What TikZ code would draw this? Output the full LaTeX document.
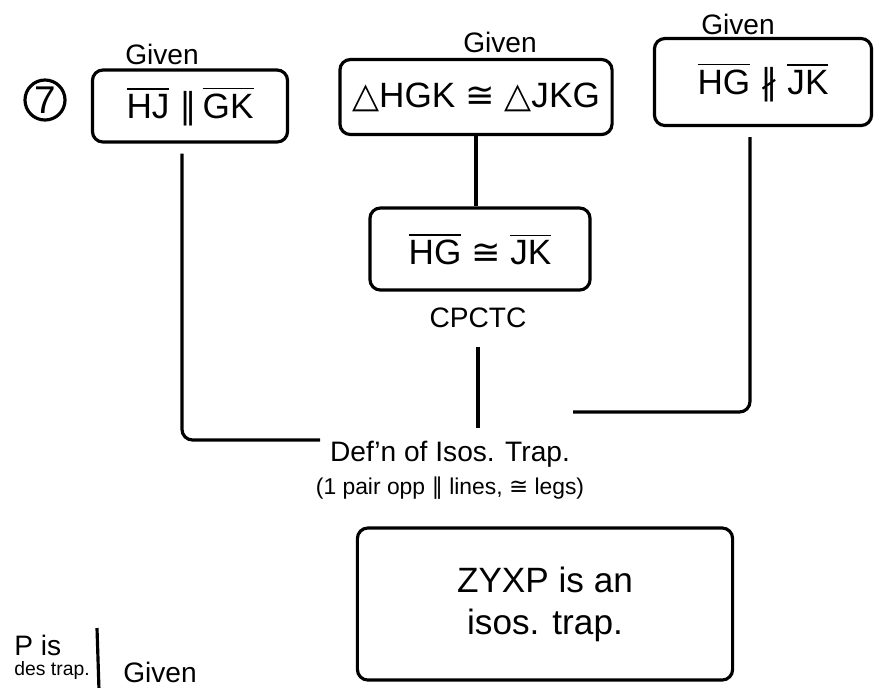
\documentclass[tikz,border=0pt]{standalone}
\usepackage{fontspec}
\setmainfont{Liberation Sans}
\newfontfamily\symfont{DejaVu Sans}
\newcommand{\seg}[1]{$\overline{\mbox{#1}}$}
\newcommand{\sym}[1]{{\symfont #1}}
\begin{document}
\begin{tikzpicture}[x=0.01cm, y=-0.01cm,
    proofbox/.style={draw, line width=0.9pt, rounded corners=3pt, align=center, font=\fontsize{10}{12}\selectfont},
    reason/.style={font=\fontsize{8}{9.5}\selectfont, align=center},
    link/.style={line width=0.9pt, rounded corners=3pt}]
        \clip (0,0) rectangle (882,687);

        % Step number
        \node[draw, circle, line width=0.9pt, minimum size=0.4cm, inner sep=0pt, font=\fontsize{11}{12}\selectfont] (num) at (45,100) {7};

        % Given statements
        \node[proofbox, minimum width=1.95cm, minimum height=0.72cm] (hjgk) at (190,106) {\seg{HJ} \sym{∥}\,\seg{GK}};
        \node[proofbox, minimum width=2.72cm, minimum height=0.75cm] (hgk) at (476,97) {\sym{△}HGK \sym{≅} \sym{△}JKG};
        \node[proofbox, minimum width=2.17cm, minimum height=0.87cm] (nopar) at (763,82) {\seg{HG} \sym{∦} \seg{JK}};
        \node[reason, anchor=base] (given1) at (162,64) {Given};
        \node[reason, anchor=base] (given2) at (500,52) {Given};
        \node[reason, anchor=base] (given3) at (738,34) {Given};

        % Congruent legs
        \node[proofbox, minimum width=2.2cm, minimum height=0.82cm] (hgjk) at (480,249) {\seg{HG} \sym{≅} \seg{JK}};
        \node[reason] (cpctc) at (478,318) {CPCTC};

        % Definition
        \node[reason] (def) at (450,470) {Def'n of Isos. Trap.\\{\fontsize{6.5}{8}\selectfont (1 pair opp \sym{∥} lines, \sym{≅} legs)}};
        \coordinate (defleft) at (320,440);
        \coordinate (defright) at (573,412);

        % Conclusion
        \node[proofbox, minimum width=3.75cm, minimum height=1.52cm] (zyxp) at (545,604) {ZYXP is an\\isos. trap.};

        % Connectors
        \draw[link] ([xshift=-0.08cm, yshift=-0.1cm]hjgk.south) |- (defleft);
        \draw[link] (hgk.south) -- (hgk.south |- hgjk.north);
        \draw[link, shorten <=2pt, shorten >=0pt] (cpctc) -- (cpctc |- def.north);
        \draw[link] ([xshift=-0.13cm, yshift=-0.1cm]nopar.south) |- (defright);

        % Next step (cut off)
        \node[reason, anchor=west] (prevstmt) at (2,645) {P is};
        \node[reason, anchor=west, font=\fontsize{5.5}{7}\selectfont] (prevtrap) at (2,670) {des trap.};
        \coordinate (sepTop) at (97,628);
        \coordinate (sepBot) at (99,690);
        \draw[link] (sepTop) -- (sepBot);
        \node[reason] (given4) at (160,672) {Given};
\end{tikzpicture}
\end{document}
